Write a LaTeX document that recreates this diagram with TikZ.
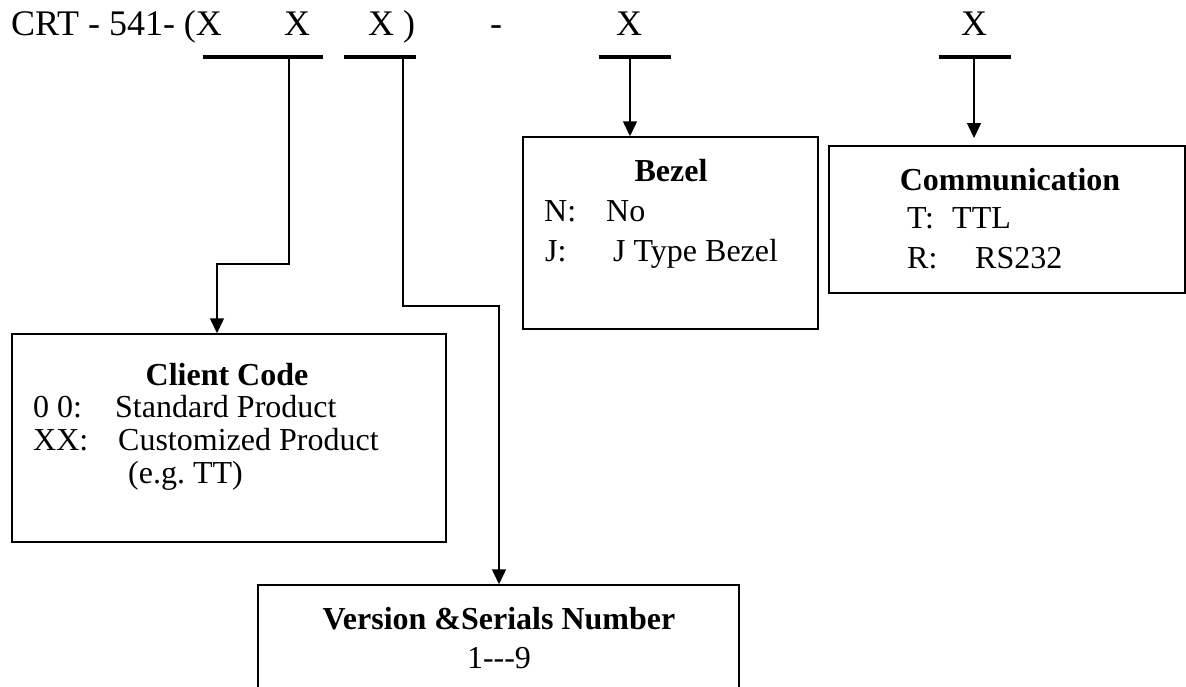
\documentclass[tikz,border=0pt]{standalone}
\usepackage{fontspec}
\setmainfont{Liberation Serif}
\usepackage{tikz}
\usetikzlibrary{positioning}
\usetikzlibrary{calc}
\usetikzlibrary{arrows.meta}

\tikzset{
  box/.style={draw,line width=1.5pt,inner sep=0pt},
  bar/.style={line width=4pt},
  conn/.style={line width=1.5pt},
  arr/.style={conn,-{Triangle[width=14pt,length=15pt]}},
  hd/.style={inner sep=0pt,anchor=base west,font=\fontsize{36}{40}\selectfont},
  txt/.style={inner sep=0pt,anchor=base west,font=\fontsize{32}{38}\selectfont},
  ttl/.style={inner sep=0pt,anchor=base,font=\fontsize{32}{38}\selectfont\bfseries}
}

\begin{document}
\begin{tikzpicture}[x=1pt,y=-1pt]
\useasboundingbox (0,0) rectangle (1186,686);
\clip (0,0) rectangle (1186,686);

\node[hd] (crt) at (11,35) {CRT - 541- (X};
\node[hd,anchor=base] (xb) at (297,35) {X};
\node[hd] (xc) at (368,35) {X )};
\node[hd,anchor=base] (dash) at (496,35) {-};
\node[hd,anchor=base] (xd) at (629,35) {X};
\node[hd,anchor=base] (xe) at (974,35) {X};

\draw[bar] (203,57) -- (323,57);
\draw[bar] (344,57) -- (416,57);
\draw[bar] (599,57) -- (671,57);
\draw[bar] (939,57) -- (1011,57);
\coordinate (t1) at (289,57);
\coordinate (t2) at (403,57);
\coordinate (t3) at (630,57);
\coordinate (t4) at (974,57);
\coordinate (k1) at (217,264);
\coordinate (k2) at (499,306);
\coordinate (e4) at (974,138);

\node[box,minimum width=434pt,minimum height=208pt] (client) at (229,438) {};
\node[box,minimum width=481pt,minimum height=160pt] (version) at (498.5,665) {};
\node[box,minimum width=295pt,minimum height=192pt] (bezel) at (670.5,233) {};
\node[box,minimum width=356pt,minimum height=147pt] (comm) at (1007,219.5) {};

\draw[arr] (t1) |- (k1) -- (k1 |- client.north);
\draw[arr] (t2) |- (k2) -- (k2 |- version.north);
\draw[arr] (t3) -- (t3 |- bezel.north);
\draw[arr] (t4) -- (e4);

\node[ttl] (clientT) at (227,385) {Client Code};
\node[txt] at (33,417) {0 0:};
\node[txt] at (115,417) {Standard Product};
\node[txt] at (33,450) {XX:};
\node[txt] at (118,450) {Customized Product};
\node[txt] at (128,483) {(e.g.\ TT)};

\node[ttl] (versionT) at (499,629) {Version \&Serials Number};
\node[ttl,font=\fontsize{32}{38}\selectfont] at (499,668) {1-{}-{}-9};

\node[ttl] (bezelT) at (671,181) {Bezel};
\node[txt] at (544,221) {N:};
\node[txt] at (606,221) {No};
\node[txt] at (545,261) {J:};
\node[txt] at (613,261) {J Type Bezel};

\node[ttl] (commT) at (1010,190) {Communication};
\node[txt] at (907,228) {T:};
\node[txt] at (952,228) {TTL};
\node[txt] at (907,268) {R:};
\node[txt] at (975,268) {RS232};
\end{tikzpicture}
\end{document}
